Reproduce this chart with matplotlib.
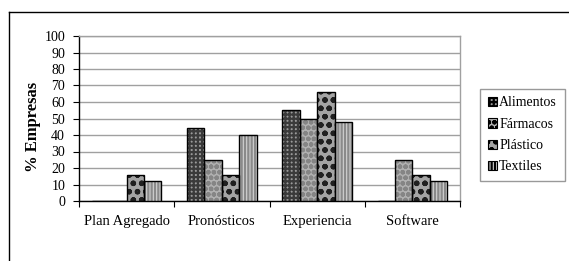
import matplotlib
matplotlib.use("Agg")
import matplotlib.pyplot as plt
import numpy as np
from matplotlib.lines import Line2D
from matplotlib.patches import Patch

categories = ["Plan Agregado", "Pronósticos", "Experiencia", "Software"]
series = ["Alimentos", "Fármacos", "Plástico", "Textiles"]
alimentos = [0, 44, 55, 0]
farmacos = [0, 25, 50, 25]
plastico = [16, 16, 66, 16]
textiles = [12, 40, 48, 12]
values = [alimentos, farmacos, plastico, textiles]
yticks = list(range(0, 101, 10))

styles = [
    dict(face="#9a9a9a", hcol="#3a3a3a", hatch="++++"),
    dict(face="#b0b0b0", hcol="#858585", hatch="ooo"),
    dict(face="#a4a4a4", hcol="#202020", hatch="oo"),
    dict(face="#d2d2d2", hcol="#8a8a8a", hatch="|||||"),
]

plt.rcParams['font.family'] = ['Liberation Serif', 'DejaVu Serif']
plt.rcParams['hatch.linewidth'] = 1.6

W, H = 569, 261
fig = plt.figure(figsize=(W / 100, H / 100), dpi=100)
ax = fig.add_axes([79 / W, 1 - 201 / H, (460 - 79) / W, (201 - 36) / H])

x = np.arange(len(categories))
bw = 0.183
for i, (vals, st) in enumerate(zip(values, styles)):
    pos = x + (i - 1.5) * bw
    ax.bar(pos, vals, bw, color=st["face"], edgecolor=st["hcol"], hatch=st["hatch"], linewidth=0, zorder=3)
    ax.bar(pos, vals, bw, fill=False, edgecolor="black", linewidth=1.0, zorder=4)

ax.set_xlim(-0.5, len(categories) - 0.5)
ax.set_ylim(0, 100)
ax.set_yticks(yticks)
ax.set_yticklabels([str(t) for t in yticks], fontsize=10)
ax.yaxis.grid(True, color="#a0a0a0", linewidth=1.0, zorder=0)
ax.set_axisbelow(True)

ax.set_xticks(np.arange(-0.5, len(categories), 1.0))
ax.set_xticklabels([])
ax.set_xticks(x, minor=True)
ax.set_xticklabels(categories, minor=True, fontsize=10.5)
ax.tick_params(axis='x', which='major', direction='out', length=4, color='black')
ax.tick_params(axis='x', which='minor', length=0, pad=10)
ax.tick_params(axis='y', direction='out', length=4, pad=6)

ax.spines['top'].set_color('#a0a0a0')
ax.spines['right'].set_color('#a0a0a0')
ax.spines['left'].set_color('black')
ax.spines['bottom'].set_color('black')
for s in ax.spines.values():
    s.set_linewidth(1.0)

fig.text(33 / W, 1 - 127 / H, "% Empresas", rotation=90, fontsize=12, fontweight='bold',
         ha='center', va='center')

handles = [Patch(facecolor=st["face"], edgecolor="black", hatch=st["hatch"], linewidth=0.8) for st in styles]
leg = fig.legend(handles, series, loc='center', bbox_to_anchor=((479 + 566) / 2 / W, 1 - 135 / H),
                 fontsize=10, frameon=True, fancybox=False, handlelength=0.65, handleheight=0.65,
                 handletextpad=0.15, labelspacing=0.6, borderpad=0.55, borderaxespad=0)
leg.get_frame().set_edgecolor('#808080')
leg.get_frame().set_linewidth(1.0)

# outer frame
fig.add_artist(Line2D([8.5 / W, 8.5 / W], [0, 1 - 11.5 / H], transform=fig.transFigure, color='black', linewidth=1.0))
fig.add_artist(Line2D([8.5 / W, 1], [1 - 11.5 / H, 1 - 11.5 / H], transform=fig.transFigure, color='black', linewidth=1.0))

fig.savefig("out.png", dpi=100)
